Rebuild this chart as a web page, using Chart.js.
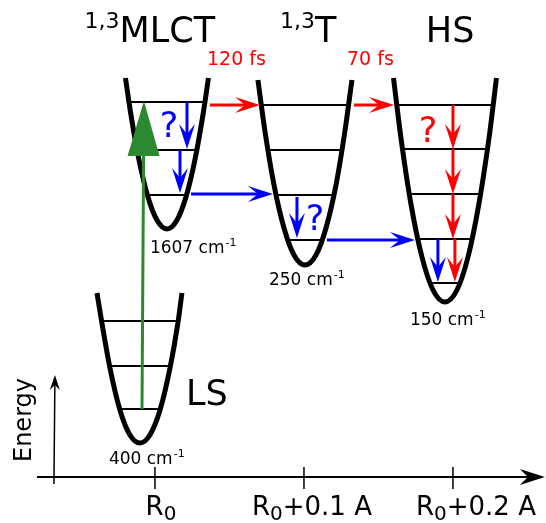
<!DOCTYPE html>
<html>
<head>
<meta charset="utf-8">
<script src="https://cdn.jsdelivr.net/npm/chart.js@4"></script>
<style>
  html, body { margin: 0; padding: 0; background: #fff; overflow: hidden; }
  canvas { display: block; }
</style>
</head>
<body>
<canvas id="myChart" width="546" height="523"></canvas>
<script>
// potential wells, x = displacement from R0 (A), y = energy (arb. units)
const lsX   = [-0.0389, -0.0356, -0.0302, -0.0235, -0.0168, -0.0101, -0.0034, 0.0034, 0.0101, 0.0154, 0.0181];
const lsY   = [1.84, 1.54, 1.09, 0.67, 0.42, 0.34, 0.42, 0.67, 1.09, 1.54, 1.84];
const mlctX = [-0.0198, -0.0161, -0.0107, -0.0047, 0.0013, 0.0081, 0.0148, 0.0208, 0.0268, 0.0322, 0.0359];
const mlctY = [3.99, 3.62, 3.17, 2.80, 2.57, 2.48, 2.57, 2.80, 3.17, 3.62, 3.99];
const tX    = [0.0691, 0.0738, 0.0799, 0.0866, 0.0933, 0.1007, 0.1081, 0.1148, 0.1215, 0.1275, 0.1322];
const tY    = [3.97, 3.46, 2.92, 2.49, 2.22, 2.12, 2.22, 2.49, 2.92, 3.46, 3.97];
const hsX   = [0.1601, 0.1651, 0.1718, 0.1792, 0.1866, 0.1946, 0.2027, 0.2101, 0.2174, 0.2242, 0.2292];
const hsY   = [3.99, 3.39, 2.73, 2.20, 1.87, 1.75, 1.87, 2.20, 2.73, 3.39, 3.99];

// vibrational levels: [energy, x left, x right]
const lsLevels   = [[1.56, -0.0356, 0.0154], [1.11, -0.0305, 0.0104], [0.68, -0.0236, 0.0035]];
const mlctLevels = [[3.75, -0.0175, 0.0336], [3.27, -0.0121, 0.0282], [2.82, -0.0052, 0.0213]];
const tLevels    = [[3.72, 0.0713, 0.1300], [3.27, 0.0758, 0.1256], [2.82, 0.0813, 0.1201], [2.37, 0.0891, 0.1123]];
const hsLevels   = [[3.72, 0.1622, 0.2270], [3.28, 0.1660, 0.2232], [2.83, 0.1706, 0.2187], [2.38, 0.1763, 0.2130], [1.94, 0.1846, 0.2047]];

// transitions: [x1, y1, x2, y2]
const greenArrow = [-0.0087, 0.68, -0.0074, 3.76];
const blueArrows = [
  [0.0215, 3.75, 0.0215, 3.28],
  [0.0168, 3.27, 0.0168, 2.84],
  [0.0242, 2.83, 0.0792, 2.83],
  [0.0953, 2.80, 0.0953, 2.39],
  [0.1154, 2.37, 0.1745, 2.37],
  [0.1899, 2.38, 0.1899, 1.95]
];
const redArrows = [
  [0.0369, 3.72, 0.0705, 3.72],
  [0.1336, 3.72, 0.1604, 3.72],
  [0.2000, 3.72, 0.2000, 3.28],
  [0.2000, 3.28, 0.2000, 2.83],
  [0.2000, 2.83, 0.2000, 2.38],
  [0.2013, 2.38, 0.2013, 1.95]
];

const stateNames = ['MLCT', 'T', 'HS', 'LS'];
const stateSup   = ['1,3', '1,3', '', ''];
const freqs      = ['1607', '250', '150', '400'];
const times      = ['120 fs', '70 fs'];
const xTicks     = [0, 0.1, 0.2];
const xTickTail  = ['', '+0.1 A', '+0.2 A'];

// ---- layout (data coords unless noted)
const stateAt  = [[-0.0238, 4.35], [0.1074, 4.35], [0.1818, 4.35], [0.0208, 0.72]];
const freqAt   = [[-0.0034, 2.24], [0.0765, 1.92], [0.1711, 1.52], [-0.0309, 0.13]];
const timeAt   = [[0.0349, 4.12], [0.1289, 4.12]];
const qAt      = [[0.0094, 3.40, 'blue'], [0.1074, 2.47, 'blue'], [0.1832, 3.35, 'red']];
const tickLabelShift = [6, 8, 23]; // px

const FONT = '"DejaVu Sans", sans-serif';

function toPx(chart, x, y) {
  return [chart.scales.x.getPixelForValue(x), chart.scales.y.getPixelForValue(y)];
}

function arrow(ctx, x1, y1, x2, y2, color, lw, L, w, notch) {
  const dx = x2 - x1, dy = y2 - y1, len = Math.hypot(dx, dy);
  const ux = dx / len, uy = dy / len, nx = -uy, ny = ux;
  ctx.save();
  ctx.strokeStyle = color; ctx.fillStyle = color; ctx.lineWidth = lw;
  ctx.beginPath();
  ctx.moveTo(x1, y1);
  ctx.lineTo(x2 - ux * (L - notch), y2 - uy * (L - notch));
  ctx.stroke();
  ctx.beginPath();
  ctx.moveTo(x2, y2);
  ctx.lineTo(x2 - ux * L + nx * w, y2 - uy * L + ny * w);
  ctx.lineTo(x2 - ux * (L - notch), y2 - uy * (L - notch));
  ctx.lineTo(x2 - ux * L - nx * w, y2 - uy * L - ny * w);
  ctx.closePath();
  ctx.fill();
  ctx.restore();
}

const decor = {
  id: 'decor',
  afterDatasetsDraw(chart) {
    const ctx = chart.ctx;
    ctx.save();

    // x axis with ticks
    const [ax0, ay] = toPx(chart, -0.0792, 0);
    const [ax1] = toPx(chart, 0.2617, 0);
    arrow(ctx, ax0, ay, ax1, ay, '#000', 2, 25, 8, 8);
    ctx.strokeStyle = '#000'; ctx.lineWidth = 1.5;
    xTicks.forEach((t, i) => {
      const px = chart.scales.x.getPixelForValue(t);
      ctx.beginPath(); ctx.moveTo(px, ay - 10); ctx.lineTo(px, ay + 12); ctx.stroke();
      ctx.fillStyle = '#000';
      ctx.font = '26px ' + FONT;
      const wR = ctx.measureText('R').width;
      ctx.font = '20px ' + FONT;
      const w0 = ctx.measureText('0').width;
      ctx.font = '26px ' + FONT;
      const wT = ctx.measureText(xTickTail[i]).width;
      const total = wR + w0 + wT;
      const lx = px + tickLabelShift[i] - total / 2;
      const base = ay + 38;
      ctx.textAlign = 'left'; ctx.textBaseline = 'alphabetic';
      ctx.fillText('R', lx, base);
      ctx.font = '20px ' + FONT;
      ctx.fillText('0', lx + wR, base + 5);
      ctx.font = '26px ' + FONT;
      ctx.fillText(xTickTail[i], lx + wR + w0, base);
    });

    // energy axis
    const [ex, ey0] = toPx(chart, -0.0678, -0.07);
    const [, ey1] = toPx(chart, -0.0678, 1.02);
    arrow(ctx, ex, ey0, ex + 1, ey1, '#000', 1.5, 15, 5, 5);
    ctx.save();
    ctx.translate(31, 420);
    ctx.rotate(-Math.PI / 2);
    ctx.font = '24px ' + FONT;
    ctx.fillStyle = '#000';
    ctx.textAlign = 'center'; ctx.textBaseline = 'alphabetic';
    ctx.fillText('Energy', 0, 0);
    ctx.restore();

    // transitions
    blueArrows.forEach(a => {
      const [x1, y1] = toPx(chart, a[0], a[1]);
      const [x2, y2] = toPx(chart, a[2], a[3]);
      arrow(ctx, x1, y1, x2, y2, '#0000ff', 3, 25, 8, 10);
    });
    redArrows.forEach(a => {
      const [x1, y1] = toPx(chart, a[0], a[1]);
      const [x2, y2] = toPx(chart, a[2], a[3]);
      arrow(ctx, x1, y1, x2, y2, '#ff0000', 3, 25, 8, 10);
    });
    {
      const [x1, y1] = toPx(chart, greenArrow[0], greenArrow[1]);
      const [x2, y2] = toPx(chart, greenArrow[2], greenArrow[3]);
      arrow(ctx, x1, y1, x2, y2, '#2b8a2f', 3, 55, 16, 0);
    }

    // state names
    ctx.textBaseline = 'alphabetic';
    ctx.fillStyle = '#000';
    stateNames.forEach((s, i) => {
      const [px, py] = toPx(chart, stateAt[i][0], stateAt[i][1]);
      if (stateSup[i]) {
        ctx.font = '22px ' + FONT;
        ctx.textAlign = 'right';
        ctx.fillText(stateSup[i], px, py - 14);
      }
      ctx.font = '35px ' + FONT;
      ctx.textAlign = 'left';
      ctx.fillText(s, px, py);
    });

    // time constants
    ctx.fillStyle = '#ff0000';
    ctx.font = '19px ' + FONT;
    ctx.textAlign = 'left';
    times.forEach((t, i) => {
      const [px, py] = toPx(chart, timeAt[i][0], timeAt[i][1]);
      ctx.fillText(t, px, py);
    });

    // question marks
    ctx.font = '35px ' + FONT;
    ctx.textAlign = 'center';
    qAt.forEach(q => {
      const [px, py] = toPx(chart, q[0], q[1]);
      ctx.fillStyle = q[2] === 'blue' ? '#0000ff' : '#ff0000';
      ctx.fillText('?', px, py);
    });

    // frequencies
    ctx.textAlign = 'left';
    ctx.fillStyle = '#000';
    freqs.forEach((f, i) => {
      const [px, py] = toPx(chart, freqAt[i][0], freqAt[i][1]);
      ctx.font = '17px ' + FONT;
      const txt = f + ' cm';
      ctx.fillText(txt, px, py);
      const w = ctx.measureText(txt).width;
      ctx.font = '11px ' + FONT;
      ctx.fillText('-1', px + w + 1, py - 7);
    });

    ctx.restore();
  }
};

function wellSet(xs, ys) {
  return {
    data: xs.map((x, i) => ({ x: x, y: ys[i] })),
    showLine: true,
    borderColor: '#000',
    borderWidth: 5,
    pointRadius: 0,
    cubicInterpolationMode: 'monotone',
    order: 0
  };
}

function levelSets(levels) {
  return levels.map(l => ({
    data: [{ x: l[1], y: l[0] }, { x: l[2], y: l[0] }],
    showLine: true,
    borderColor: '#000',
    borderWidth: 2,
    pointRadius: 0,
    order: 1
  }));
}

const datasets = [
  wellSet(lsX, lsY), wellSet(mlctX, mlctY), wellSet(tX, tY), wellSet(hsX, hsY),
  ...levelSets(lsLevels), ...levelSets(mlctLevels), ...levelSets(tLevels), ...levelSets(hsLevels)
];

const myChart = new Chart(document.getElementById('myChart'), {
  type: 'scatter',
  data: { datasets: datasets },
  options: {
    responsive: false,
    animation: false,
    layout: { padding: 0 },
    plugins: { legend: { display: false }, tooltip: { enabled: false } },
    scales: {
      x: { type: 'linear', min: -0.104, max: 0.26244, display: false },
      y: { type: 'linear', min: -0.46, max: 4.77, display: false }
    }
  },
  plugins: [decor]
});
</script>
</body>
</html>
